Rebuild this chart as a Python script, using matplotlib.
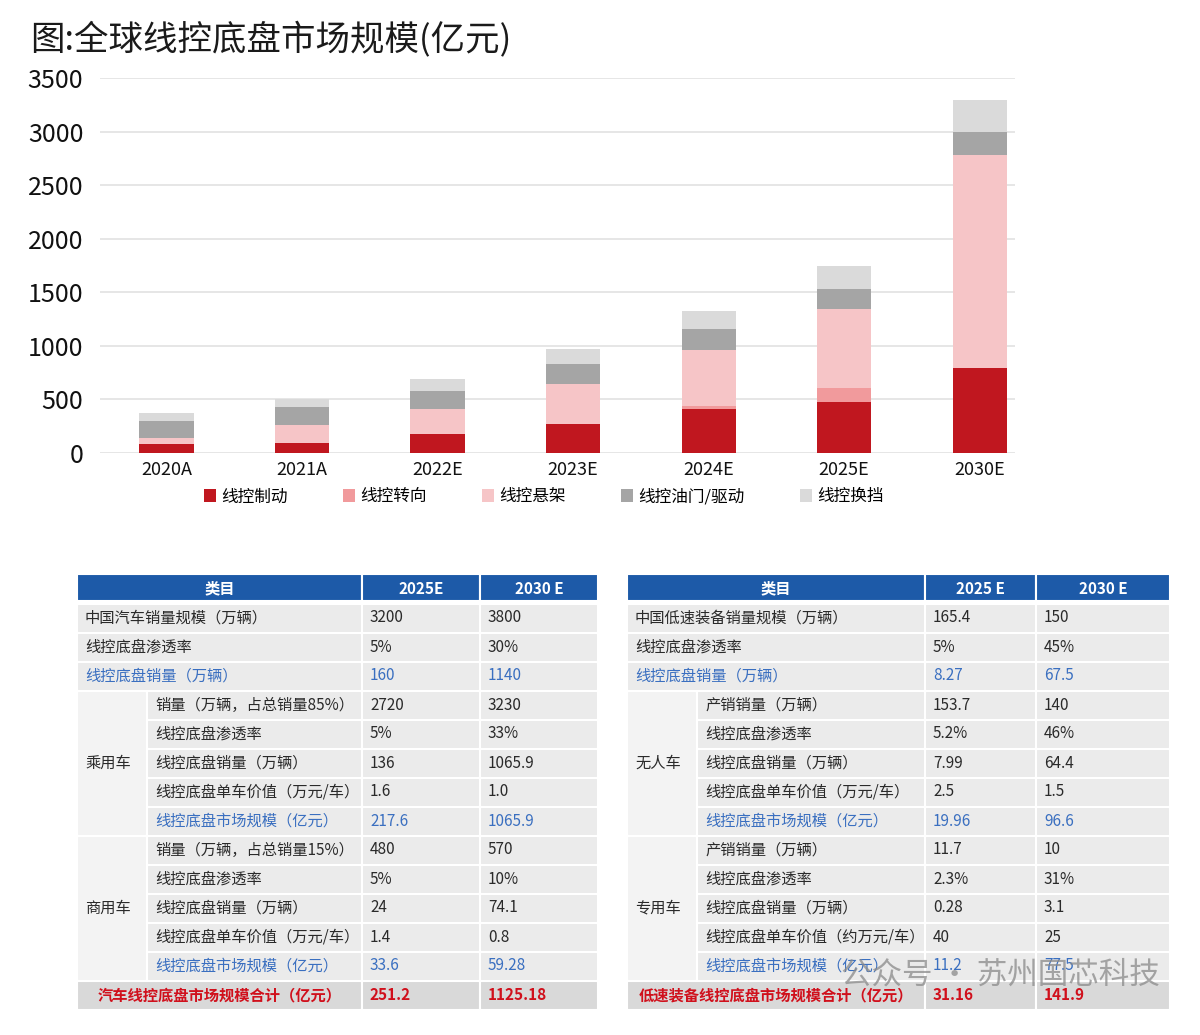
import matplotlib
matplotlib.use("Agg")
import matplotlib.pyplot as plt
from matplotlib.patches import Rectangle, Patch
import numpy as np

plt.rcParams['font.family'] = ['Noto Sans CJK SC', 'DejaVu Sans']

# ---------------- data ----------------
years = ["2020A", "2021A", "2022E", "2023E", "2024E", "2025E", "2030E"]
brake = [80, 95, 175, 275, 415, 480, 790]
steer = [0, 0, 0, 0, 20, 130, 0]
suspension = [60, 170, 235, 370, 530, 730, 1990]
throttle = [155, 160, 170, 185, 190, 192, 215]
shift = [75, 80, 110, 140, 170, 210, 295]
series_names = ["线控制动", "线控转向", "线控悬架", "线控油门/驱动", "线控换挡"]
series_colors = ["#c0171f", "#f19a9c", "#f6c5c7", "#a5a5a5", "#dadada"]
yticks = [0, 500, 1000, 1500, 2000, 2500, 3000, 3500]
title = "图:全球线控底盘市场规模(亿元)"

header_left = ["类目", "2025E", "2030 E"]
top_left = [("中国汽车销量规模（万辆）", "3200", "3800", "n"),
            ("线控底盘渗透率", "5%", "30%", "n"),
            ("线控底盘销量（万辆）", "160", "1140", "b")]
group_left_names = ["乘用车", "商用车"]
group_left_rows = [
    [("销量（万辆，占总销量85%）", "2720", "3230", "n"),
     ("线控底盘渗透率", "5%", "33%", "n"),
     ("线控底盘销量（万辆）", "136", "1065.9", "n"),
     ("线控底盘单车价值（万元/车）", "1.6", "1.0", "n"),
     ("线控底盘市场规模（亿元）", "217.6", "1065.9", "b")],
    [("销量（万辆，占总销量15%）", "480", "570", "n"),
     ("线控底盘渗透率", "5%", "10%", "n"),
     ("线控底盘销量（万辆）", "24", "74.1", "n"),
     ("线控底盘单车价值（万元/车）", "1.4", "0.8", "n"),
     ("线控底盘市场规模（亿元）", "33.6", "59.28", "b")]]
total_left = ("汽车线控底盘市场规模合计（亿元）", "251.2", "1125.18")

header_right = ["类目", "2025 E", "2030 E"]
top_right = [("中国低速装备销量规模（万辆）", "165.4", "150", "n"),
             ("线控底盘渗透率", "5%", "45%", "n"),
             ("线控底盘销量（万辆）", "8.27", "67.5", "b")]
group_right_names = ["无人车", "专用车"]
group_right_rows = [
    [("产销销量（万辆）", "153.7", "140", "n"),
     ("线控底盘渗透率", "5.2%", "46%", "n"),
     ("线控底盘销量（万辆）", "7.99", "64.4", "n"),
     ("线控底盘单车价值（万元/车）", "2.5", "1.5", "n"),
     ("线控底盘市场规模（亿元）", "19.96", "96.6", "b")],
    [("产销销量（万辆）", "11.7", "10", "n"),
     ("线控底盘渗透率", "2.3%", "31%", "n"),
     ("线控底盘销量（万辆）", "0.28", "3.1", "n"),
     ("线控底盘单车价值（约万元/车）", "40", "25", "n"),
     ("线控底盘市场规模（亿元）", "11.2", "77.5", "b")]]
total_right = ("低速装备线控底盘市场规模合计（亿元）", "31.16", "141.9")

# ---------------- figure ----------------
W, H = 1200, 1035
fig = plt.figure(figsize=(W / 100, H / 100), dpi=100)
fig.patch.set_facecolor("white")

tax = fig.add_axes([0, 0, 1, 1])
tax.set_xlim(0, W)
tax.set_ylim(H, 0)
tax.axis("off")
tax.patch.set_alpha(0)

tax.text(30, 40, title, fontsize=24.8, fontweight="medium", color="#1a1a1a",
         va="center", ha="left")

# ---------------- bar chart ----------------
ax = fig.add_axes([100 / W, 1 - 453 / H, 915 / W, 375 / H])
x = np.arange(len(years))
bottom = np.zeros(len(years))
handles = []
for vals, name, col in zip([brake, steer, suspension, throttle, shift], series_names, series_colors):
    ax.bar(x, vals, width=0.4, bottom=bottom, color=col, zorder=3, linewidth=0)
    bottom += np.array(vals)
    handles.append(Patch(facecolor=col, edgecolor="none", label=name))
ax.set_ylim(0, 3500)
ax.set_xlim(-0.49, 6.26)
ax.set_yticks(yticks)
ax.set_yticklabels([str(v) for v in yticks], fontsize=18, fontweight="medium", color="#111111")
ax.set_xticks(x)
ax.set_xticklabels(years, fontsize=13, fontweight="medium", color="#111111")
ax.tick_params(axis="both", length=0)
ax.tick_params(axis="y", pad=12)
ax.tick_params(axis="x", pad=6)
for s in ax.spines.values():
    s.set_visible(False)
ax.yaxis.grid(True, color="#e2e2e2", linewidth=1.2, zorder=0)
ax.set_axisbelow(True)
leg = ax.legend(handles=handles, loc="center", bbox_to_anchor=(0.485, -0.117), ncol=5,
                frameon=False, fontsize=12, handlelength=0.75, handleheight=0.75,
                handletextpad=0.3, columnspacing=3.3)
for t in leg.get_texts():
    t.set_fontweight("medium")

# ---------------- tables ----------------
HEAD_BLUE = "#1d5aa8"
CELL = "#ebebeb"
GROUP = "#f3f3f3"
TOTAL = "#d9d9d9"
BLUE_TXT = "#3a6fc0"
RED_TXT = "#d0101c"
TXT = "#2a2a2a"
FS = 11


def draw_table(cols, sub_x, header, top_rows, gnames, grows, total):
    c0, c1, c2, c3 = cols
    hy0, hy1 = 574, 601
    for a, b, label in [(c0, c1, header[0]), (c1, c2, header[1]), (c2, c3, header[2])]:
        tax.add_patch(Rectangle((a, hy0), b - a, hy1 - hy0, facecolor=HEAD_BLUE,
                                edgecolor="white", linewidth=1.5))
        tax.text((a + b) / 2, (hy0 + hy1) / 2 + 1, label, color="white", fontsize=FS,
                 fontweight="bold", ha="center", va="center")
    y = 603.5
    rh = 29

    def row(lbl_x0, lbl, v1, v2, style, y):
        col = BLUE_TXT if style == "b" else TXT
        tax.add_patch(Rectangle((lbl_x0, y), c1 - lbl_x0, rh, facecolor=CELL,
                                edgecolor="white", linewidth=1.5))
        tax.add_patch(Rectangle((c1, y), c2 - c1, rh, facecolor=CELL, edgecolor="white", linewidth=1.5))
        tax.add_patch(Rectangle((c2, y), c3 - c2, rh, facecolor=CELL, edgecolor="white", linewidth=1.5))
        tax.text(lbl_x0 + 8, y + rh / 2, lbl, color=col, fontsize=FS, ha="left", va="center")
        tax.text(c1 + 8, y + rh / 2, v1, color=col, fontsize=FS, ha="left", va="center")
        tax.text(c2 + 8, y + rh / 2, v2, color=col, fontsize=FS, ha="left", va="center")

    for lbl, v1, v2, st in top_rows:
        row(c0, lbl, v1, v2, st, y)
        y += rh
    for gname, rows in zip(gnames, grows):
        gy0 = y
        for lbl, v1, v2, st in rows:
            row(sub_x, lbl, v1, v2, st, y)
            y += rh
        tax.add_patch(Rectangle((c0, gy0), sub_x - c0, y - gy0, facecolor=GROUP,
                                edgecolor="white", linewidth=1.5))
        tax.text(c0 + 8, (gy0 + y) / 2, gname, color=TXT, fontsize=FS, ha="left", va="center")
    for a, b in [(c0, c1), (c1, c2), (c2, c3)]:
        tax.add_patch(Rectangle((a, y), b - a, rh, facecolor=TOTAL, edgecolor="white", linewidth=1.5))
    tax.text((c0 + c1) / 2, y + rh / 2, total[0], color=RED_TXT, fontsize=FS,
             fontweight="bold", ha="center", va="center")
    tax.text(c1 + 8, y + rh / 2, total[1], color=RED_TXT, fontsize=FS, fontweight="bold",
             ha="left", va="center")
    tax.text(c2 + 8, y + rh / 2, total[2], color=RED_TXT, fontsize=FS, fontweight="bold",
             ha="left", va="center")


draw_table((77, 362, 480, 598), 147, header_left, top_left, group_left_names,
           group_left_rows, total_left)
draw_table((627, 925, 1036, 1170), 697, header_right, top_right, group_right_names,
           group_right_rows, total_right)

# watermark (as in the reference, it lies over the table's last rows)
tax.text(1160, 975, "公众号 · 苏州国芯科技", color="#8a8a8a", alpha=0.75, fontsize=22,
         ha="right", va="center")

fig.savefig("out.png", dpi=100, facecolor="white")
